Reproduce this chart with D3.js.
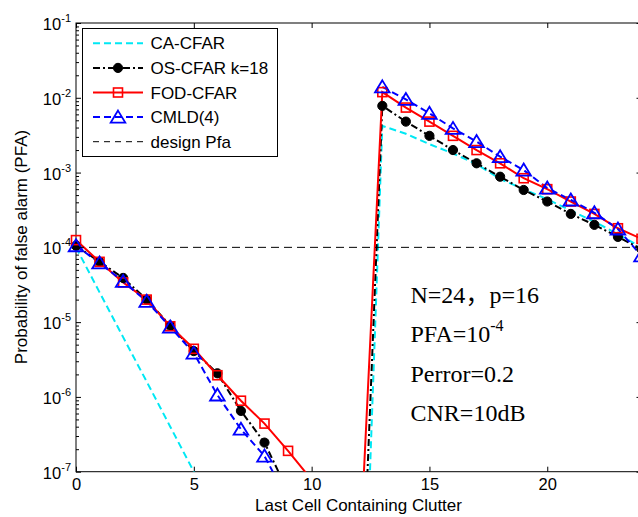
<!DOCTYPE html>
<html>
<head>
<meta charset="utf-8">
<script src="https://cdn.jsdelivr.net/npm/d3@7"></script>
<style>
  body { margin: 0; background: #fff; }
  text { font-family: "Liberation Sans", Arial, sans-serif; }
  .note { font-family: "Liberation Serif", "Times New Roman", serif; font-size: 24px; }
</style>
</head>
<body>
<div id="chart"></div>
<script>
// data
var cells = [0, 1, 2, 3, 4, 5, 6, 7, 8, 9, 10, 11, 12, 13, 14, 15, 16, 17, 18, 19, 20, 21, 22, 23, 24];

var caPfa = [1.0e-4, 2.5e-5, 6.3e-6, 1.6e-6, 4.0e-7, 1.0e-7, 2.5e-8, 6.3e-9, 1.6e-9, 4.0e-10, 1.0e-10, 2.5e-11, 6.3e-12,
             4.2e-3, 3.3e-3, 2.4e-3, 1.8e-3, 1.3e-3, 8.2e-4, 6.0e-4, 4.4e-4, 3.1e-4, 2.2e-4, 1.5e-4, 1.0e-4];

var osPfa = [1.05e-4, 6.4e-5, 3.9e-5, 2.0e-5, 9.0e-6, 4.1e-6, 2.07e-6, 6.5e-7, 2.45e-7, 5.4e-8, 1.2e-8, 1.5e-9, 1.3e-10,
             7.8e-3, 4.8e-3, 3.1e-3, 2.0e-3, 1.33e-3, 8.8e-4, 5.85e-4, 4.1e-4, 2.8e-4, 2.0e-4, 1.38e-4, 9.5e-5];

var fodPfa = [1.25e-4, 6.4e-5, 3.4e-5, 2.0e-5, 8.8e-6, 4.4e-6, 1.95e-6, 8.9e-7, 4.4e-7, 1.9e-7, 7.8e-8, 2.5e-8, 3.7e-9,
              1.19e-2, 7.4e-3, 4.8e-3, 3.1e-3, 2.0e-3, 1.33e-3, 8.4e-4, 6.0e-4, 4.1e-4, 2.8e-4, 1.8e-4, 1.3e-4];

// zero values (nothing drawn on a log axis) stored as null
var cmldPfa = [1.05e-4, 6.2e-5, 3.5e-5, 1.9e-5, 8.6e-6, 3.85e-6, 1.06e-6, 3.7e-7, 1.62e-7, 4.1e-8, null, null, null,
               1.4e-2, 9.5e-3, 6.2e-3, 3.9e-3, 2.6e-3, 1.63e-3, 1.08e-3, 6.2e-4, 4.3e-4, 2.9e-4, 1.76e-4, 7.7e-5];

var designPfa = 1e-4;

var xTicks = [0, 5, 10, 15, 20];
var yTicks = [1e-7, 1e-6, 1e-5, 1e-4, 1e-3, 1e-2, 1e-1];
var legendLabels = ["CA-CFAR", "OS-CFAR k=18", "FOD-CFAR", "CMLD(4)", "design Pfa"];
var noteLines = ["N=24\uff0cp=16", "PFA=10", "Perror=0.2", "CNR=10dB"];

// svg and chart area (right edge of the axes falls just outside the picture)
var svgWidth = 638;
var svgHeight = 517;

var chartMargin = {top: 23, left: 76};
var chartWidth = 565.5;
var chartHeight = 448.7;

var svg = d3.select("#chart")
    .append("svg")
    .attr("width", svgWidth)
    .attr("height", svgHeight);

var chartGroup = svg.append("g")
    .attr("transform", `translate(${chartMargin.left}, ${chartMargin.top})`);

svg.append("defs").append("clipPath")
    .attr("id", "plotClip")
    .append("rect")
    .attr("width", chartWidth)
    .attr("height", chartHeight);

// scales
var xScale = d3.scaleLinear()
    .domain([0, 24])
    .range([0, chartWidth]);

var yScale = d3.scaleLog()
    .domain([1e-7, 1e-1])
    .range([chartHeight, 0]);

// minor ticks on the log axis
var minorTicks = [];
yTicks.slice(0, -1).forEach(function(t) {
    for (var k = 2; k < 10; k++) minorTicks.push(t * k);
});

// axes (ticks pointing inward like matlab)
var bottomAxis = d3.axisBottom(xScale).tickValues(xTicks).tickSizeInner(-5).tickSizeOuter(0).tickPadding(7);
var topAxis = d3.axisTop(xScale).tickValues(xTicks).tickSizeInner(-5).tickSizeOuter(0).tickFormat("");
var leftAxis = d3.axisLeft(yScale).tickValues(yTicks).tickSizeInner(-5).tickSizeOuter(0).tickPadding(5)
    .tickFormat(d => Math.round(Math.log10(d)));
var rightAxis = d3.axisRight(yScale).tickValues(yTicks).tickSizeInner(-5).tickSizeOuter(0).tickFormat("");
var leftMinor = d3.axisLeft(yScale).tickValues(minorTicks).tickSizeInner(-3).tickSizeOuter(0).tickFormat("");
var rightMinor = d3.axisRight(yScale).tickValues(minorTicks).tickSizeInner(-3).tickSizeOuter(0).tickFormat("");

var gx = chartGroup.append("g")
    .attr("transform", `translate(0, ${chartHeight})`)
    .call(bottomAxis);
chartGroup.append("g").call(topAxis);
var gy = chartGroup.append("g").call(leftAxis);
chartGroup.append("g").attr("transform", `translate(${chartWidth}, 0)`).call(rightAxis);
chartGroup.append("g").call(leftMinor);
chartGroup.append("g").attr("transform", `translate(${chartWidth}, 0)`).call(rightMinor);

chartGroup.selectAll(".domain").remove();
chartGroup.selectAll(".tick line").attr("stroke", "#000");

gx.selectAll(".tick text")
    .attr("font-size", "16.5px")
    .attr("font-family", "Liberation Sans, Arial, sans-serif")
    .attr("fill", "#000");

// y labels as 10 with a superscript exponent
gy.selectAll(".tick text").each(function(d) {
    var t = d3.select(this);
    var e = Math.round(Math.log10(d));
    t.text(null)
        .attr("font-size", "16.5px")
        .attr("font-family", "Liberation Sans, Arial, sans-serif")
        .attr("fill", "#000")
        .attr("dy", "0.4em");
    t.append("tspan").text("10");
    t.append("tspan").attr("font-size", "11px").attr("dy", "-8").text(e);
});

// box
chartGroup.append("rect")
    .attr("width", chartWidth)
    .attr("height", chartHeight)
    .attr("fill", "none")
    .attr("stroke", "#000")
    .attr("stroke-width", 1);

// series
var series = [
    {name: legendLabels[0], values: caPfa, color: "#00e8f4", dash: "7,4", marker: "none"},
    {name: legendLabels[1], values: osPfa, color: "#000000", dash: "7,3,2,3", marker: "circle"},
    {name: legendLabels[2], values: fodPfa, color: "#ff0000", dash: null, marker: "square"},
    {name: legendLabels[3], values: cmldPfa, color: "#0000ff", dash: "7,4", marker: "triangle"}
];

var line = d3.line()
    .defined(d => d.v !== null)
    .x(d => xScale(d.x))
    .y(d => yScale(d.v));

var plotGroup = chartGroup.append("g").attr("clip-path", "url(#plotClip)");

function drawMarker(g, type, color) {
    if (type === "circle") {
        g.append("circle").attr("r", 4.6).attr("fill", color).attr("stroke", color);
    } else if (type === "square") {
        g.append("rect").attr("x", -4.5).attr("y", -4.5).attr("width", 9).attr("height", 9)
            .attr("fill", "none").attr("stroke", color).attr("stroke-width", 1.6);
    } else if (type === "triangle") {
        g.append("path").attr("d", "M0,-6.5L7.3,5.5L-7.3,5.5Z")
            .attr("fill", "none").attr("stroke", color).attr("stroke-width", 1.8);
    }
}

series.forEach(function(s) {
    var pts = cells.map((c, i) => ({x: c, v: s.values[i]}));

    plotGroup.append("path")
        .datum(pts)
        .attr("d", line)
        .attr("fill", "none")
        .attr("stroke", s.color)
        .attr("stroke-width", 2)
        .attr("stroke-dasharray", s.dash);

    if (s.marker !== "none") {
        chartGroup.selectAll(null)
            .data(pts.filter(d => d.v !== null && d.v >= 1e-7))
            .enter()
            .append("g")
            .attr("transform", d => `translate(${xScale(d.x)}, ${yScale(d.v)})`)
            .each(function() { drawMarker(d3.select(this), s.marker, s.color); });
    }
});

// design pfa reference line
chartGroup.append("line")
    .attr("x1", xScale(0))
    .attr("x2", xScale(24))
    .attr("y1", yScale(designPfa))
    .attr("y2", yScale(designPfa))
    .attr("stroke", "#000")
    .attr("stroke-width", 1)
    .attr("stroke-dasharray", "8,5");

// legend
var legend = svg.append("g");
legend.append("rect")
    .attr("x", 82.5)
    .attr("y", 28.5)
    .attr("width", 195)
    .attr("height", 128)
    .attr("fill", "#fff")
    .attr("stroke", "#000");

var legendItems = series.concat([{name: legendLabels[4], color: "#000", dash: "6,5", marker: "none", thin: true}]);

legendItems.forEach(function(s, i) {
    var ly = 43.3 + i * 24.6;
    legend.append("line")
        .attr("x1", 93).attr("x2", 143)
        .attr("y1", ly).attr("y2", ly)
        .attr("stroke", s.color)
        .attr("stroke-width", s.thin ? 1 : 2)
        .attr("stroke-dasharray", s.dash);
    var mg = legend.append("g").attr("transform", `translate(118, ${ly})`);
    drawMarker(mg, s.marker, s.color);
    legend.append("text")
        .attr("x", 150.5)
        .attr("y", ly + 6)
        .attr("font-size", "17px")
        .text(s.name);
});

// axis labels
svg.append("text")
    .attr("transform", "rotate(-90)")
    .attr("x", -247)
    .attr("y", 27)
    .attr("text-anchor", "middle")
    .attr("font-size", "17px")
    .text("Probability of false alarm (PFA)");

svg.append("text")
    .attr("x", 358.5)
    .attr("y", 511)
    .attr("text-anchor", "middle")
    .attr("font-size", "17px")
    .text("Last Cell Containing Clutter");

// parameter notes (full-width comma set in a CJK font)
var noteY = [303, 342, 381.5, 420.5];
noteLines.forEach(function(t, i) {
    var nt = svg.append("text")
        .attr("class", "note")
        .attr("x", 410.5)
        .attr("y", noteY[i]);
    t.split(/(\uff0c)/).forEach(function(part) {
        var sp = nt.append("tspan").text(part);
        if (part === "\uff0c") sp.attr("font-family", "Noto Sans CJK SC");
    });
    if (i === 1) {
        nt.append("tspan").attr("font-size", "16px").attr("dy", "-11").text("-4");
    }
});
</script>
</body>
</html>
